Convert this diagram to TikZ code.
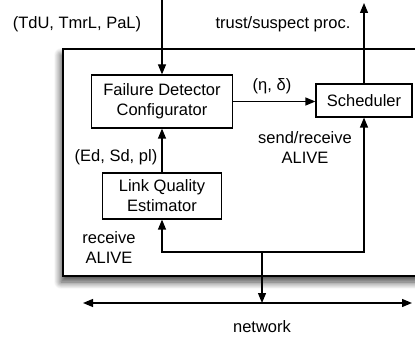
\documentclass[tikz,border=0pt]{standalone}
\usepackage{fontspec}
\setmainfont{Liberation Sans}
\usetikzlibrary{arrows.meta,shadows.blur}
\begin{document}
\begin{tikzpicture}[x=1pt,y=-1pt,
  font=\fontsize{16.5}{20}\selectfont,
  box/.style={draw, line width=1.2pt, fill=white, inner sep=0pt, align=center},
  tip/.tip={Triangle[length=10pt,width=8pt]},
  arr/.style={-tip, line width=1.2pt},
  arrb/.style={tip-tip, line width=1.2pt},
  lbl/.style={align=center, inner sep=0pt}]
\useasboundingbox (0,0) rectangle (415,339);
\clip (0,0) rectangle (415,339);
\node[draw, line width=2pt, fill=white, anchor=north west, minimum width=365pt, minimum height=227pt,
  blur shadow={shadow xshift=-2pt, shadow yshift=-6pt, shadow blur radius=7pt, shadow blur steps=12, shadow opacity=75}]
  (outer) at (62,48) {};
\node[box, minimum width=141pt, minimum height=53pt] (fdc) at (162,101.5) {Failure Detector\\Configurator};
\node[box, minimum width=96pt, minimum height=33pt] (sch) at (364,100.5) {Scheduler};
\node[box, minimum width=119pt, minimum height=46pt] (lqe) at (162,196) {Link Quality\\Estimator};
\coordinate (in) at (162,0);
\coordinate (out) at (364,3);
\coordinate (j) at (262,252);
\coordinate (nl) at (83,303);
\coordinate (nr) at (412,303);
\draw[arr] (in) -- (fdc.north);
\draw[arr] (sch.north) -- (out);
\draw[arr] (fdc.east) -- (fdc.east -| sch.west);
\draw[arr] (lqe.north) -- (fdc.south);
\draw[arrb] (lqe.south) -- (lqe.south |- j) -- (sch.south |- j) -- (sch.south);
\draw[arr] (j) -- (j |- nl);
\draw[arrb] (nl) -- (nr);
\node[lbl] (l1) at (77,24) {(TdU, TmrL, PaL)};
\node[lbl] (l2) at (283,24) {trust/suspect proc.};
\node[lbl] (l3) at (272,86) {(η, δ)};
\node[lbl] (l4) at (116,157) {(Ed, Sd, pl)};
\node[lbl] (l5) at (305,147.5) {send/receive\\ALIVE};
\node[lbl] (l6) at (109,247.5) {receive\\ALIVE};
\node[lbl] (l7) at (262,327) {network};
\end{tikzpicture}
\end{document}
